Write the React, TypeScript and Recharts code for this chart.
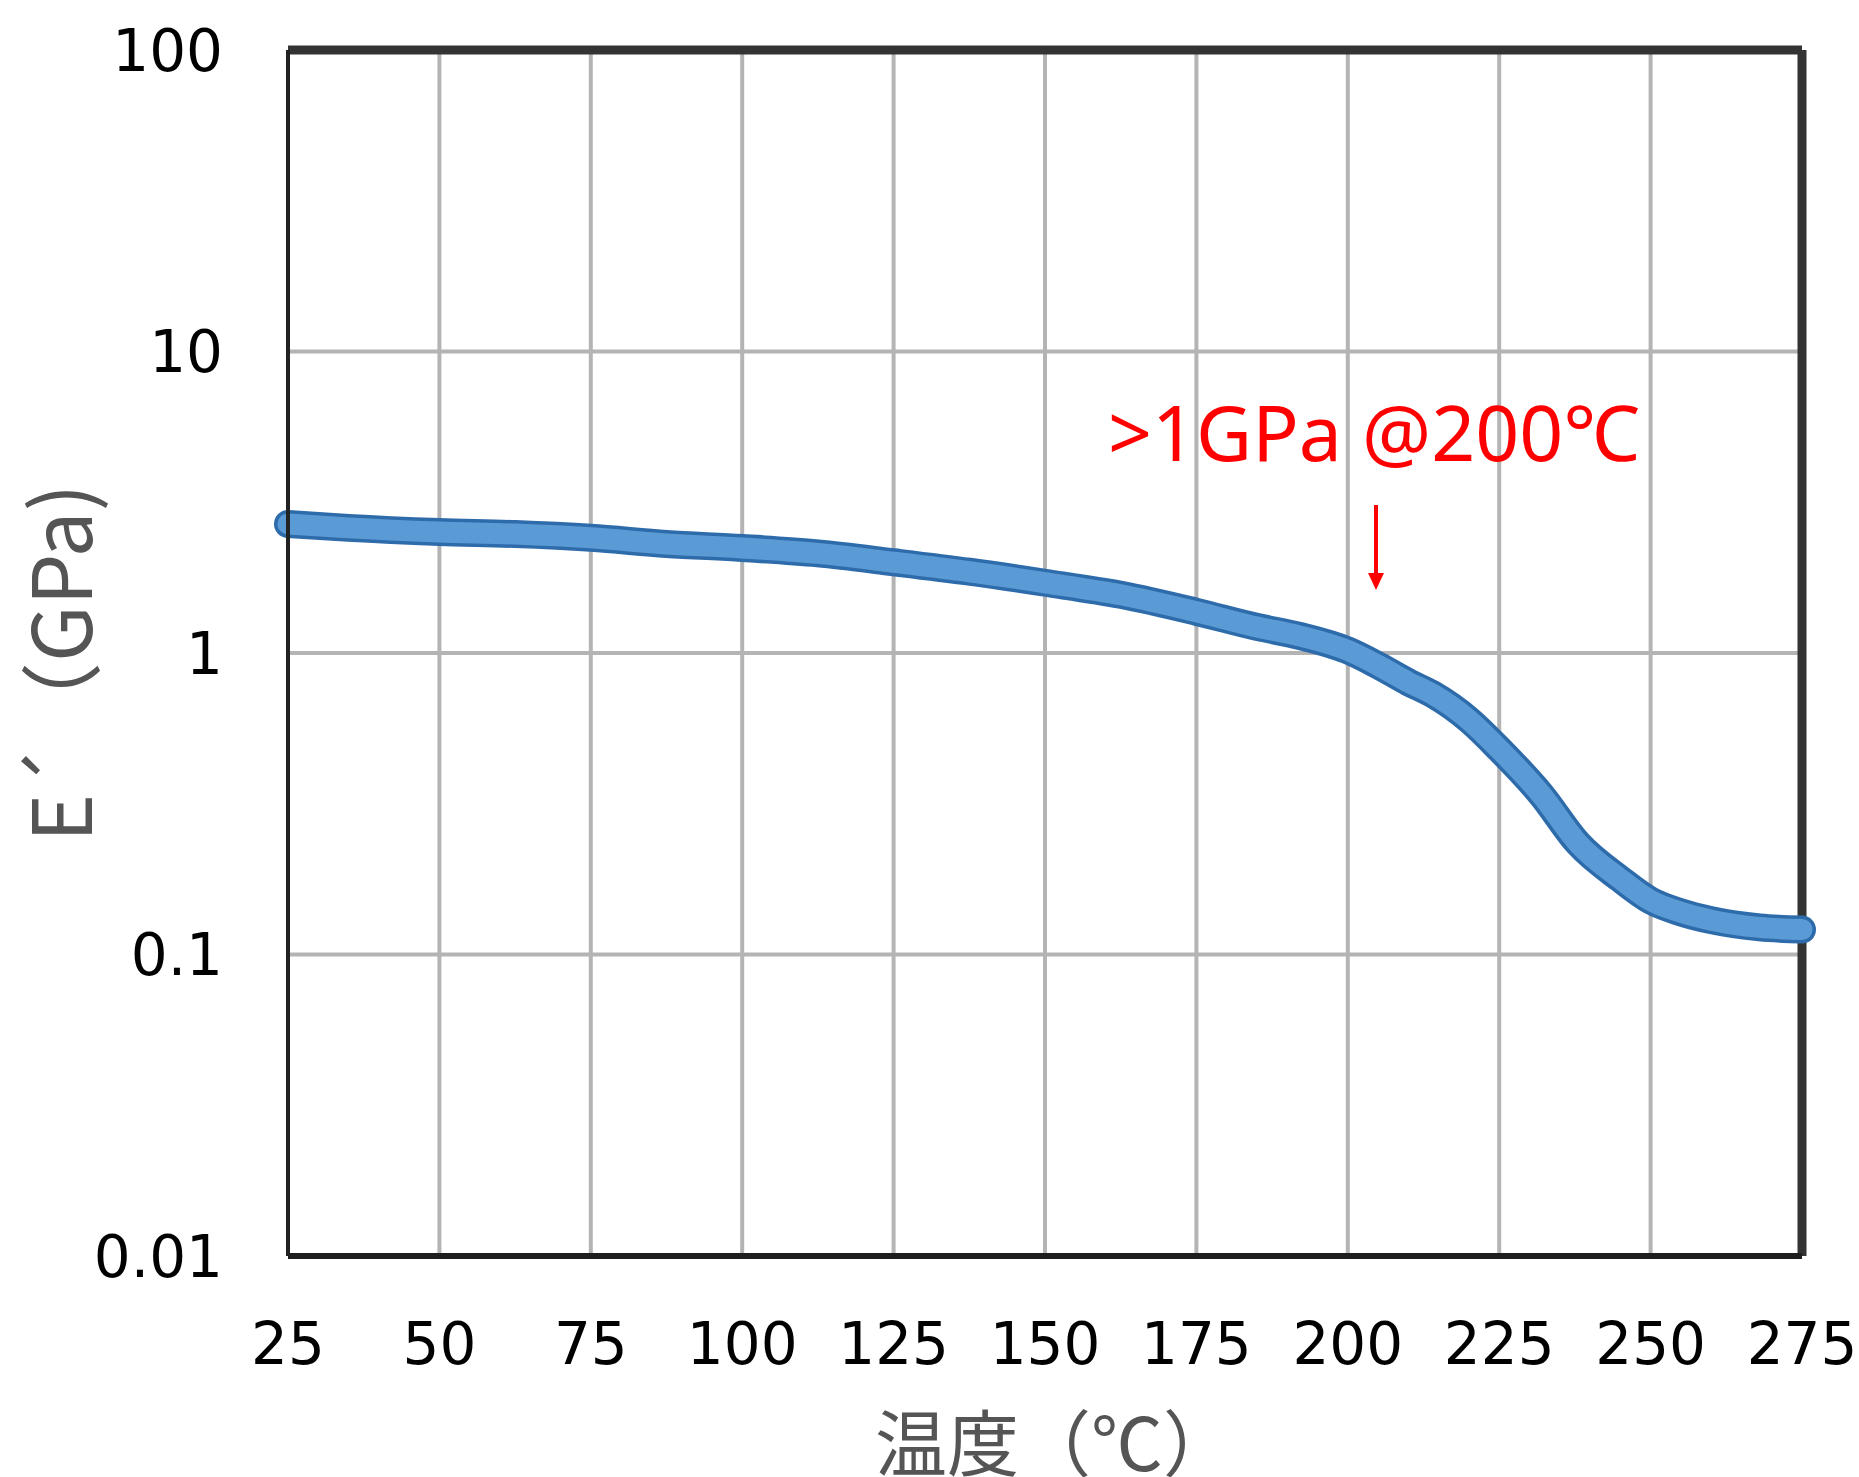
import React from 'react';
import { LineChart, Line, XAxis, YAxis, CartesianGrid, ReferenceLine } from 'recharts';

const temps = [25, 35, 50, 62.5, 75, 87.5, 100, 112.5, 125, 137.5, 150, 162.5, 175, 185, 192, 200, 205, 210, 214, 220, 225, 232, 238, 245, 250, 255, 260, 268, 275];
const modulus = [2.68, 2.6, 2.52, 2.48, 2.41, 2.3, 2.23, 2.14, 2.0, 1.86, 1.71, 1.56, 1.37, 1.22, 1.14, 1.02, 0.91, 0.8, 0.73, 0.6, 0.48, 0.338, 0.234, 0.178, 0.151, 0.138, 0.13, 0.123, 0.121];
const xTicks = [25, 50, 75, 100, 125, 150, 175, 200, 225, 250, 275];
const yTicks = [0.01, 0.1, 1, 10, 100];
const xLabel = '温度（℃）';
const yLabel = 'E´（GPa)';
const note = '>1GPa @200℃';

const data = temps.map((t, i) => ({ t, e: modulus[i] }));

const W = 1859;
const H = 1477;

export default function App() {
  const tickStyle = { fontFamily: 'DejaVu Sans', fontSize: 58, fill: '#000' };
  return (
    <div style={{ position: 'absolute', left: 0, top: 0, width: W, height: H, background: '#fff' }}>
      <LineChart width={W} height={H} data={data} margin={{ top: 50, right: 57, bottom: 101, left: 88 }}>
        <CartesianGrid stroke="#b4b4b4" strokeWidth={4} />
        <XAxis
          dataKey="t"
          type="number"
          domain={[25, 275]}
          ticks={xTicks}
          height={120}
          tickLine={false}
          tickSize={10}
          tickMargin={57}
          axisLine={{ stroke: '#1e1e1e', strokeWidth: 6 }}
          tick={tickStyle}
          interval={0}
        />
        <YAxis
          dataKey="e"
          scale="log"
          domain={[0.01, 100]}
          ticks={yTicks}
          width={200}
          tickLine={false}
          tickSize={10}
          tickMargin={55}
          axisLine={{ stroke: '#222', strokeWidth: 4 }}
          tick={tickStyle}
          tickFormatter={(v) => String(v)}
          interval={0}
          allowDataOverflow
        />
        <ReferenceLine y={100} stroke="#333" strokeWidth={9} />
        <ReferenceLine x={275} stroke="#333" strokeWidth={9} />
        <Line
          dataKey="e"
          type="monotone"
          stroke="#2e6bab"
          strokeWidth={28}
          strokeLinecap="round"
          strokeLinejoin="round"
          dot={false}
          activeDot={false}
          isAnimationActive={false}
        />
        <Line
          dataKey="e"
          type="monotone"
          stroke="#5b9bd5"
          strokeWidth={21}
          strokeLinecap="round"
          strokeLinejoin="round"
          dot={false}
          activeDot={false}
          isAnimationActive={false}
        />
      </LineChart>
      <svg width={W} height={H} style={{ position: 'absolute', left: 0, top: 0, pointerEvents: 'none' }}>
        <text
          x={92}
          y={842}
          transform="rotate(-90, 92, 842)"
          fontFamily="'Noto Sans CJK JP'"
          fontSize={82}
          fill="#555"
        >
          {yLabel}
        </text>
        <text x={875} y={1470} fontFamily="'Noto Sans CJK JP'" fontSize={72} fill="#555">
          {xLabel}
        </text>
        <text x={1108} y={461} fontFamily="'Noto Sans', 'Noto Sans CJK JP'" fontSize={77} fill="#ff0000">
          {note}
        </text>
        <line x1={1376} y1={505} x2={1376} y2={575} stroke="#ff0000" strokeWidth={4} />
        <polygon points="1368,573 1384,573 1376,590" fill="#ff0000" />
      </svg>
    </div>
  );
}
